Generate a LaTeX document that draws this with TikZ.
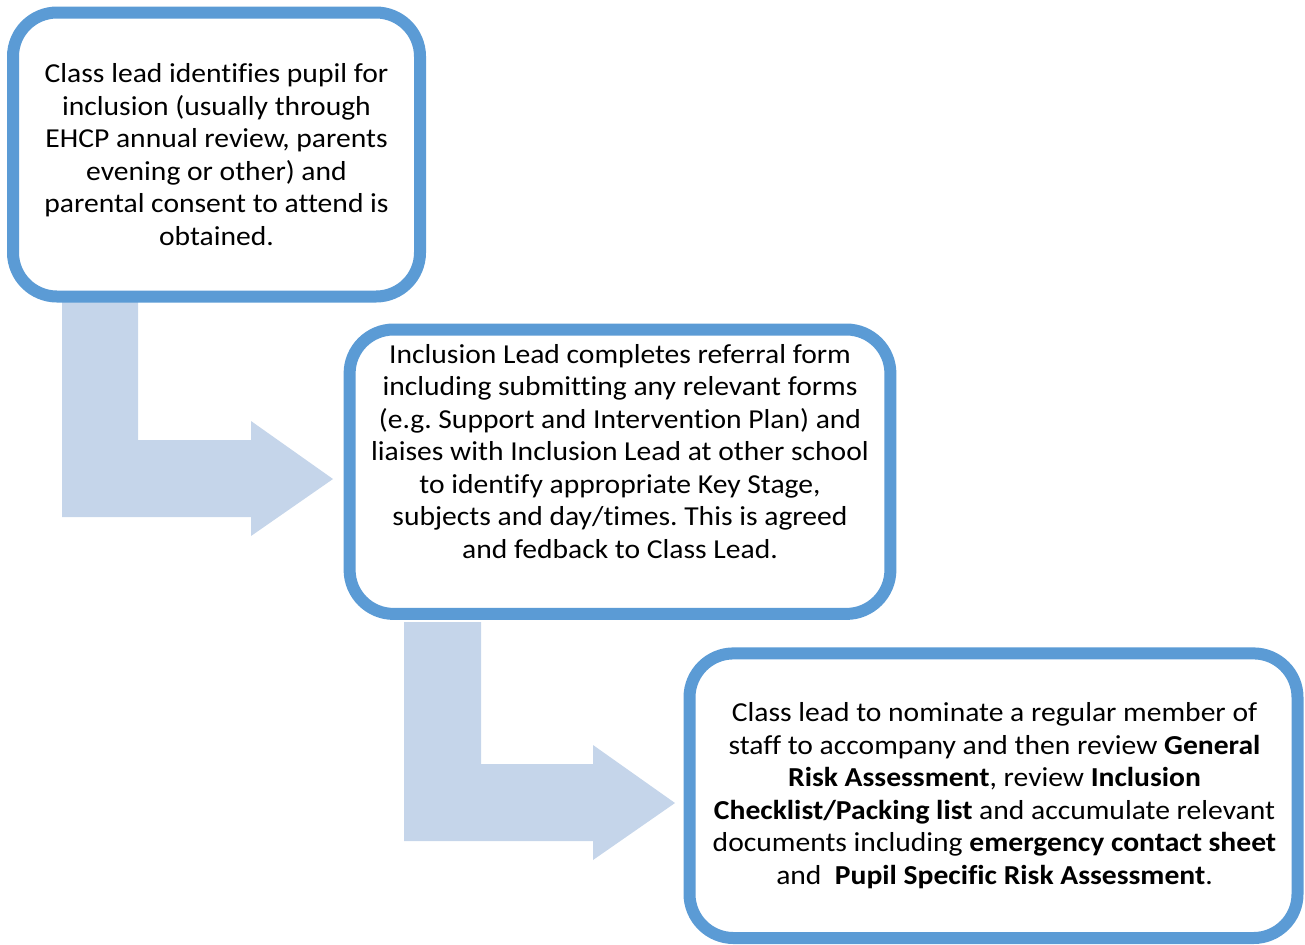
\documentclass[tikz,border=0pt]{standalone}
\usepackage{fontspec}
\setmainfont{Carlito}[Ligatures=NoCommon, FakeStretch=1.08]
\frenchspacing
\definecolor{boxblue}{RGB}{91,155,213}
\definecolor{arrowblue}{RGB}{197,213,234}
\begin{document}
\begin{tikzpicture}[x=0.5pt,y=-0.5pt,
    stepbox/.style={draw=boxblue, line width=6pt, rounded corners=22pt, fill=white, inner sep=0pt},
    steptext/.style={align=center, inner sep=0pt, font=\fontsize{13.7}{16.25}\selectfont},
    bentarrow/.style={fill=arrowblue}]
  \useasboundingbox (0,0) rectangle (1305,944);
  % bent arrows
  \fill[bentarrow] (62,300) -- (138,300) -- (138,440) -- (251,440) -- (251,421)
    -- (333,479) -- (251,536) -- (251,517) -- (62,517) -- cycle;
  \fill[bentarrow] (404,622) -- (481,622) -- (481,764) -- (593,764) -- (593,745)
    -- (675,803) -- (593,860) -- (593,841) -- (404,841) -- cycle;
  % boxes
  \node[stepbox, minimum width=203.5pt, minimum height=142pt] (b1) at (216.5,154.5) {};
  \node[stepbox, minimum width=270.4pt, minimum height=142.2pt] (b2) at (620,471.7) {};
  \node[stepbox, minimum width=304pt, minimum height=142.3pt] (b3) at (993.5,795.7) {};
  % texts
  \node[steptext] (t1) at (216.5,154.5) {Class lead identifies pupil for\\
    inclusion (usually through\\
    EHCP annual review, parents\\
    evening or other) and\\
    parental consent to attend is\\
    obtained.};
  \node[steptext] (t2) at (620,451.5) {Inclusion Lead completes referral form\\
    including submitting any relevant forms\\
    (e.g. Support and Intervention Plan) and\\
    liaises with Inclusion Lead at other school\\
    to identify appropriate Key Stage,\\
    subjects and day/times. This is agreed\\
    and fedback to Class Lead.};
  \node[steptext] (t3) at (994.5,795.5) {Class lead to nominate a regular member of\\
    staff to accompany and then review \textbf{General}\\
    \textbf{Risk Assessment}, review \textbf{Inclusion}\\
    \textbf{Checklist/Packing list} and accumulate relevant\\
    documents including \textbf{emergency contact sheet}\\
    and\ \ \textbf{Pupil Specific Risk Assessment}.};
\end{tikzpicture}
\end{document}
